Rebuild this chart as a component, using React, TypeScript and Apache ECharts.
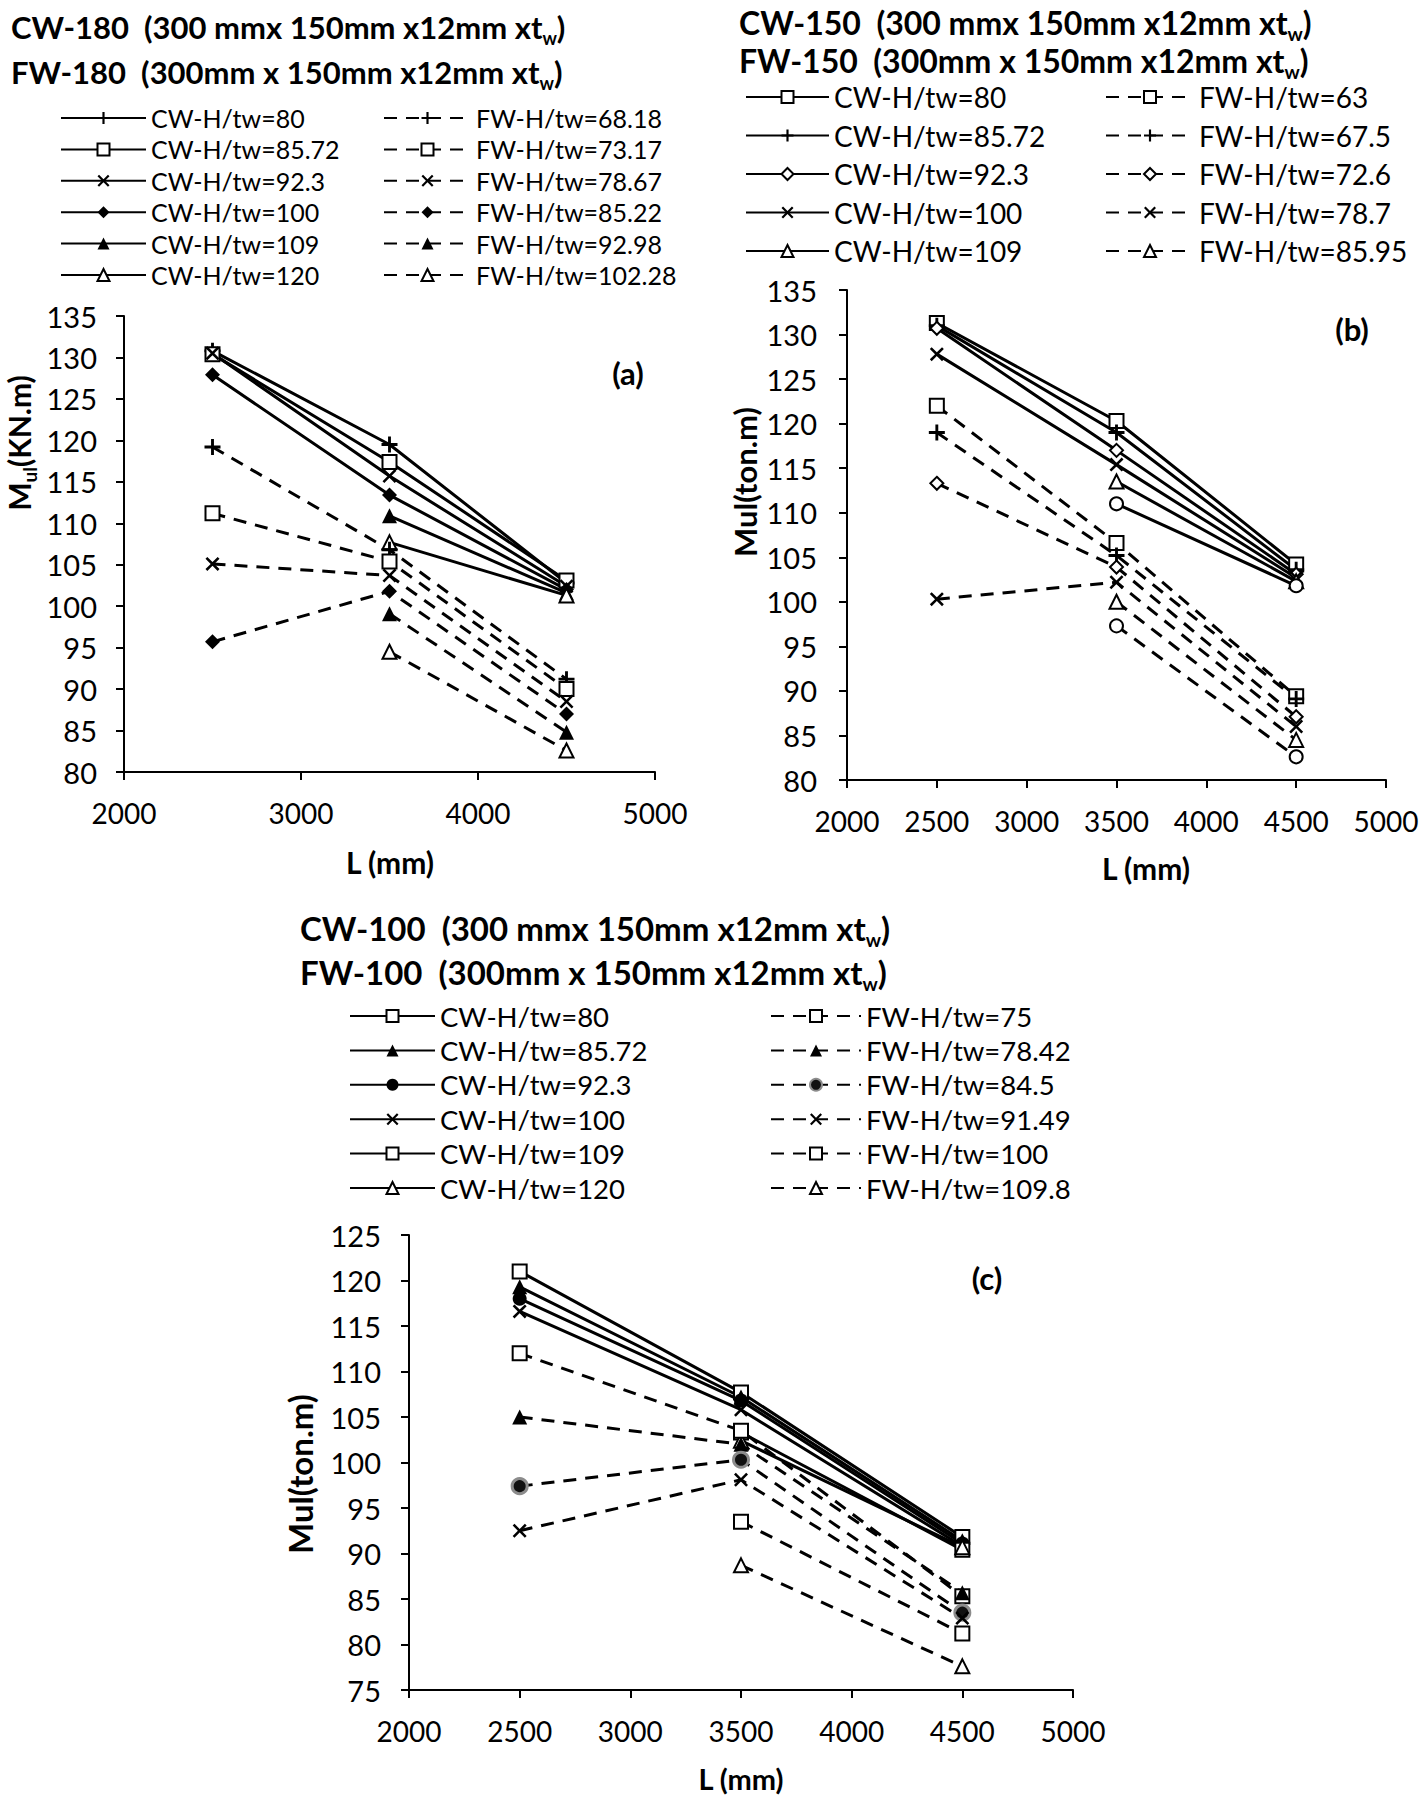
import React, { useEffect, useRef } from "react";
import * as echarts from "echarts";

const FONT = "Lato";

// Span lengths L (mm)
const L = [2500, 3500, 4500];

// ---------- Panel (a): CW-180 / FW-180, Mul (KN.m) ----------
const aCW80 = [130.8, 119.5, 102.8];
const aCW85 = [130.4, 117.4, 103.1];
const aCW92 = [130.5, 115.7, 102.4];
const aCW100 = [127.9, 113.4, 102.0];
const aCW109 = [null, 110.9, 101.6];
const aCW120 = [null, 107.7, 101.3];
const aFW68 = [119.2, 106.8, 91.2];
const aFW73 = [111.2, 105.4, 90.0];
const aFW78 = [105.1, 103.7, 88.5];
const aFW85 = [95.7, 101.8, 87.0];
const aFW92 = [null, 99.1, 84.8];
const aFW102 = [null, 94.5, 82.6];

// ---------- Panel (b): CW-150 / FW-150 ----------
const bCW80 = [131.3, 120.3, 104.2];
const bCW85 = [131.0, 119.0, 103.6];
const bCW92 = [130.7, 117.0, 103.1];
const bCW100 = [127.8, 115.4, 102.7];
const bCW109 = [null, 113.5, 102.3];
const bCWx = [null, 111.0, 101.8];
const bFW63 = [122.0, 106.6, 89.4];
const bFW67 = [119.0, 105.2, 89.1];
const bFW72 = [113.3, 103.9, 87.1];
const bFW78 = [100.3, 102.2, 86.0];
const bFW85 = [null, 100.0, 84.5];
const bFWx = [null, 97.3, 82.6];

// ---------- Panel (c): CW-100 / FW-100 ----------
const cCW80 = [121.0, 107.7, 91.8];
const cCW85 = [119.3, 107.2, 91.4];
const cCW92 = [118.0, 106.8, 91.1];
const cCW100 = [116.6, 105.8, 90.8];
const cCW109 = [null, 103.3, 90.4];
const cCW120 = [null, 102.4, 90.7];
const cFW75 = [112.0, 103.5, 85.3];
const cFW78 = [105.0, 102.0, 85.7];
const cFW84 = [97.4, 100.3, 83.5];
const cFW91 = [92.5, 98.1, 82.9];
const cFW100 = [null, 93.5, 81.2];
const cFW109 = [null, 88.7, 77.6];

// Legend labels
const aCWNames = ["CW-H/tw=80", "CW-H/tw=85.72", "CW-H/tw=92.3", "CW-H/tw=100", "CW-H/tw=109", "CW-H/tw=120"];
const aFWNames = ["FW-H/tw=68.18", "FW-H/tw=73.17", "FW-H/tw=78.67", "FW-H/tw=85.22", "FW-H/tw=92.98", "FW-H/tw=102.28"];
const bCWNames = ["CW-H/tw=80", "CW-H/tw=85.72", "CW-H/tw=92.3", "CW-H/tw=100", "CW-H/tw=109", "CW-H/tw=120"];
const bFWNames = ["FW-H/tw=63", "FW-H/tw=67.5", "FW-H/tw=72.6", "FW-H/tw=78.7", "FW-H/tw=85.95", "FW-H/tw=92"];
const cCWNames = ["CW-H/tw=80", "CW-H/tw=85.72", "CW-H/tw=92.3", "CW-H/tw=100", "CW-H/tw=109", "CW-H/tw=120"];
const cFWNames = ["FW-H/tw=75", "FW-H/tw=78.42", "FW-H/tw=84.5", "FW-H/tw=91.49", "FW-H/tw=100", "FW-H/tw=109.8"];

const PLUS = "path://M-1.8,-10H1.8V-1.8H10V1.8H1.8V10H-1.8V1.8H-10V-1.8H-1.8Z";
const CROSS = "path://M0,2.6L7.4,10L10,7.4L2.6,0L10,-7.4L7.4,-10L0,-2.6L-7.4,-10L-10,-7.4L-2.6,0L-10,7.4L-7.4,10Z";

type Mk = { sym: string; size: number; color?: string; border?: string; bw?: number };
const MK: Record<string, Mk> = {
  plus: { sym: PLUS, size: 16 },
  cross: { sym: CROSS, size: 14 },
  sq: { sym: "emptyRect", size: 14, bw: 2 },
  dia: { sym: "diamond", size: 15 },
  odia: { sym: "emptyDiamond", size: 13, bw: 2 },
  tri: { sym: "triangle", size: 15 },
  otri: { sym: "emptyTriangle", size: 14, bw: 2 },
  circ: { sym: "circle", size: 14 },
  ocirc: { sym: "emptyCircle", size: 13, bw: 2 },
  gcirc: { sym: "circle", size: 15, color: "#111", border: "#8c8c8c", bw: 3 },
};

function line(panel: number, key: string, vals: (number | null)[], mk: Mk, dashed: boolean) {
  return {
    type: "line",
    name: key,
    xAxisIndex: panel,
    yAxisIndex: panel,
    data: L.flatMap((x, i) => (vals[i] == null ? [] : [[x, vals[i]]])),
    symbol: mk.sym,
    symbolSize: mk.size,
    symbolKeepAspect: true,
    showAllSymbol: true,
    silent: true,
    lineStyle: { color: "#000", width: 3, type: dashed ? [13, 9] : "solid" },
    itemStyle: { color: mk.color ?? "#000", borderColor: mk.border ?? "#000", borderWidth: mk.bw ?? 0 },
    emphasis: { disabled: true },
  };
}

const P = ["a", "b", "c"];
const k = (p: number, n: string) => P[p] + ":" + n;

const series = [
  line(0, k(0, aCWNames[0]), aCW80, MK.plus, false),
  line(0, k(0, aCWNames[1]), aCW85, MK.sq, false),
  line(0, k(0, aCWNames[2]), aCW92, MK.cross, false),
  line(0, k(0, aCWNames[3]), aCW100, MK.dia, false),
  line(0, k(0, aCWNames[4]), aCW109, MK.tri, false),
  line(0, k(0, aCWNames[5]), aCW120, MK.otri, false),
  line(0, k(0, aFWNames[0]), aFW68, MK.plus, true),
  line(0, k(0, aFWNames[1]), aFW73, MK.sq, true),
  line(0, k(0, aFWNames[2]), aFW78, MK.cross, true),
  line(0, k(0, aFWNames[3]), aFW85, MK.dia, true),
  line(0, k(0, aFWNames[4]), aFW92, MK.tri, true),
  line(0, k(0, aFWNames[5]), aFW102, MK.otri, true),

  line(1, k(1, bCWNames[0]), bCW80, MK.sq, false),
  line(1, k(1, bCWNames[1]), bCW85, MK.plus, false),
  line(1, k(1, bCWNames[2]), bCW92, MK.odia, false),
  line(1, k(1, bCWNames[3]), bCW100, MK.cross, false),
  line(1, k(1, bCWNames[4]), bCW109, MK.otri, false),
  line(1, k(1, bCWNames[5]), bCWx, MK.ocirc, false),
  line(1, k(1, bFWNames[0]), bFW63, MK.sq, true),
  line(1, k(1, bFWNames[1]), bFW67, MK.plus, true),
  line(1, k(1, bFWNames[2]), bFW72, MK.odia, true),
  line(1, k(1, bFWNames[3]), bFW78, MK.cross, true),
  line(1, k(1, bFWNames[4]), bFW85, MK.otri, true),
  line(1, k(1, bFWNames[5]), bFWx, MK.ocirc, true),

  line(2, k(2, cCWNames[0]), cCW80, MK.sq, false),
  line(2, k(2, cCWNames[1]), cCW85, MK.tri, false),
  line(2, k(2, cCWNames[2]), cCW92, MK.circ, false),
  line(2, k(2, cCWNames[3]), cCW100, MK.cross, false),
  line(2, k(2, cCWNames[4]), cCW109, MK.sq, false),
  line(2, k(2, cCWNames[5]), cCW120, MK.otri, false),
  line(2, k(2, cFWNames[0]), cFW75, MK.sq, true),
  line(2, k(2, cFWNames[1]), cFW78, MK.tri, true),
  line(2, k(2, cFWNames[2]), cFW84, MK.gcirc, true),
  line(2, k(2, cFWNames[3]), cFW91, MK.cross, true),
  line(2, k(2, cFWNames[4]), cFW100, MK.sq, true),
  line(2, k(2, cFWNames[5]), cFW109, MK.otri, true),
];

function legend(left: number, rowCenter: number, spacing: number, fs: number, iw: number, names: string[]) {
  const lh = Math.round(fs * 1.1);
  return {
    orient: "vertical",
    left,
    top: rowCenter - lh / 2,
    padding: 0,
    itemGap: spacing - lh,
    itemWidth: iw,
    itemHeight: 15,
    selectedMode: false,
    data: names,
    formatter: (n: string) => n.slice(2),
    textStyle: { fontFamily: FONT, fontSize: fs, lineHeight: lh, color: "#000" },
  };
}

function xAx(gi: number, interval: number) {
  return {
    type: "value",
    gridIndex: gi,
    min: 2000,
    max: 5000,
    interval,
    splitLine: { show: false },
    axisLine: { show: true, onZero: false, lineStyle: { color: "#000", width: 2 } },
    axisTick: { show: true, length: 8, lineStyle: { color: "#000", width: 2 } },
    axisLabel: { color: "#000", fontSize: 28, fontFamily: FONT, margin: 27, formatter: (v: number) => String(v) },
  };
}
function yAx(gi: number, min: number, max: number, margin: number) {
  return {
    type: "value",
    gridIndex: gi,
    min,
    max,
    interval: 5,
    splitLine: { show: false },
    axisLine: { show: true, onZero: false, lineStyle: { color: "#000", width: 2 } },
    axisTick: { show: true, length: 8, lineStyle: { color: "#000", width: 2 } },
    axisLabel: { color: "#000", fontSize: 29, fontFamily: FONT, margin },
  };
}

function titleText(x: number, yc: number, main: string, fs: number) {
  const sub = Math.round(fs * 0.58);
  const pad = Math.round(fs * 0.55);
  return {
    type: "text",
    x,
    y: yc - fs / 2,
    silent: true,
    style: {
      text: `{m|${main}}{s|w}{m|)}`,
      verticalAlign: "top",
      align: "left",
      rich: {
        m: { fontFamily: FONT, fontWeight: "bold", fontSize: fs, lineHeight: fs, verticalAlign: "top", fill: "#000" },
        s: { fontFamily: FONT, fontWeight: "bold", fontSize: sub, lineHeight: sub, padding: [pad, 0, 0, 0], verticalAlign: "top", fill: "#000" },
      },
    },
  };
}

function plain(x: number, y: number, text: string, fs: number) {
  return {
    type: "text",
    x,
    y,
    silent: true,
    style: { text, fontFamily: FONT, fontWeight: "bold", fontSize: fs, fill: "#000", align: "center", verticalAlign: "middle" },
  };
}

function yName(x: number, y: number, main: string, sub: string, rest: string, fs: number) {
  const s = Math.round(fs * 0.62);
  return {
    type: "text",
    x,
    y,
    rotation: Math.PI / 2,
    silent: true,
    style: {
      text: sub ? `{m|${main}}{s|${sub}}{m|${rest}}` : `{m|${main}${rest}}`,
      align: "center",
      verticalAlign: "middle",
      rich: {
        m: { fontFamily: FONT, fontWeight: "bold", fontSize: fs, lineHeight: fs * 1.1, verticalAlign: "top", fill: "#000" },
        s: { fontFamily: FONT, fontWeight: "bold", fontSize: s, lineHeight: s, padding: [fs * 0.55, 0, 0, 0], verticalAlign: "top", fill: "#000" },
      },
    },
  };
}

export default function App() {
  const ref = useRef<HTMLDivElement>(null);
  useEffect(() => {
    if (!ref.current) return;
    const chart = echarts.init(ref.current, null, { renderer: "svg" });
    const option = {
      animation: false,
      backgroundColor: "#fff",
      textStyle: { fontFamily: FONT },
      grid: [
        { left: 124, top: 316, width: 531, height: 456 },
        { left: 847, top: 290, width: 539, height: 490 },
        { left: 409, top: 1235, width: 664, height: 455 },
      ],
      xAxis: [xAx(0, 1000), xAx(1, 500), xAx(2, 500)],
      yAxis: [yAx(0, 80, 135, 27), yAx(1, 80, 135, 30), yAx(2, 75, 125, 28)],
      legend: [
        legend(60, 118, 31.4, 25, 85, aCWNames.map((n) => k(0, n))),
        legend(383, 118, 31.4, 25, 87, aFWNames.map((n) => k(0, n))),
        legend(745, 97, 38.5, 28, 83, bCWNames.slice(0, 5).map((n) => k(1, n))),
        legend(1105, 97, 38.5, 28, 88, bFWNames.slice(0, 5).map((n) => k(1, n))),
        legend(349, 1016, 34.4, 27.5, 85, cCWNames.map((n) => k(2, n))),
        legend(770, 1016, 34.4, 27.5, 90, cFWNames.map((n) => k(2, n))),
      ],
      series,
      graphic: {
        elements: [
          titleText(11, 27, "CW-180  (300 mmx 150mm x12mm xt", 31),
          titleText(11, 72, "FW-180  (300mm x 150mm x12mm xt", 31),
          titleText(739, 22, "CW-150  (300 mmx 150mm x12mm xt", 32),
          titleText(739, 60, "FW-150  (300mm x 150mm x12mm xt", 32),
          titleText(300, 928, "CW-100  (300 mmx 150mm x12mm xt", 33),
          titleText(300, 972, "FW-100  (300mm x 150mm x12mm xt", 33),
          plain(390, 862, "L (mm)", 30),
          plain(1146, 868, "L (mm)", 30),
          plain(741, 1778, "L (mm)", 29),
          plain(628, 373, "(a)", 31),
          plain(1352, 329, "(b)", 31),
          plain(987, 1278, "(c)", 31),
          yName(20, 443, "M", "ul", "(KN.m)", 30),
          yName(747, 482, "Mul(ton.m)", "", "", 31),
          yName(302, 1474, "Mul(ton.m)", "", "", 33),
        ],
      },
    };
    chart.setOption(option as any);
    return () => chart.dispose();
  }, []);
  return (
    <div
      ref={ref}
      style={{ position: "absolute", left: 0, top: 0, width: 1424, height: 1796, background: "#fff" }}
    />
  );
}
